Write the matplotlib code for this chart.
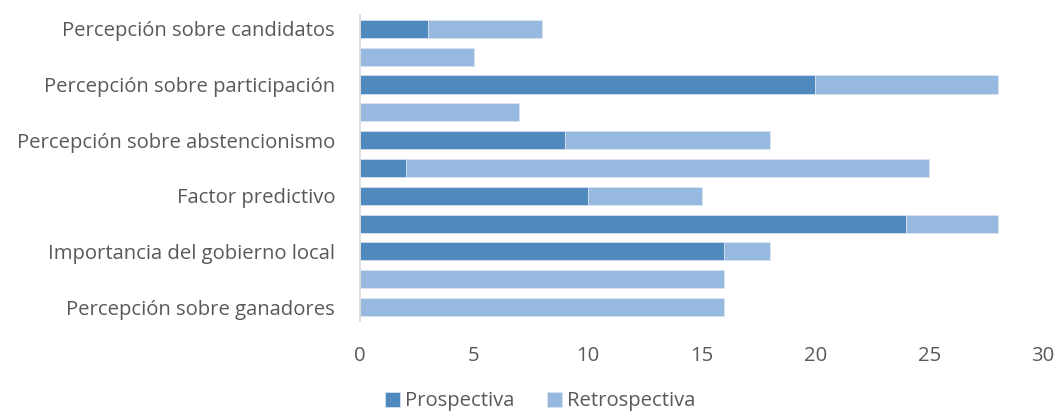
import numpy as np
import matplotlib.pyplot as plt

plt.rcParams['font.family'] = ['Open Sans', 'DejaVu Sans']

labels = ["Percepción sobre candidatos", "", "Percepción sobre participación", "",
          "Percepción sobre abstencionismo", "", "Factor predictivo", "",
          "Importancia del gobierno local", "", "Percepción sobre ganadores"]
prospectiva = [3, 0, 20, 0, 9, 2, 10, 24, 16, 0, 0]
retrospectiva = [5, 5, 8, 7, 9, 23, 5, 4, 2, 16, 16]
ticks = [0, 5, 10, 15, 20, 25, 30]

dark = "#4F89BD"
light = "#97B9E0"
grey = "#595959"
fs = 14.6

fig = plt.figure(figsize=(10.57, 4.15), dpi=100)
ax = fig.add_axes([0.3406, 0.2265, 0.6462, 0.7375])

y = np.arange(len(labels))
ax.barh(y, prospectiva, height=0.65, color=dark, edgecolor="#DCE6F2", linewidth=0.5, label="Prospectiva")
ax.barh(y, retrospectiva, left=prospectiva, height=0.65, color=light, edgecolor="#DCE6F2",
        linewidth=0.5, label="Retrospectiva")

ax.set_ylim(len(labels) - 0.5, -0.5)
ax.set_xlim(0, 30)
ax.set_yticks(y)
ax.set_yticklabels(labels, fontsize=fs, color=grey)
ax.set_xticks(ticks)
ax.set_xticklabels([str(t) for t in ticks], fontsize=fs, color=grey)
ax.tick_params(axis="both", length=0)
ax.tick_params(axis="x", pad=18)
ax.tick_params(axis="y", pad=18)
for s in ["top", "right", "bottom"]:
    ax.spines[s].set_visible(False)
ax.spines["left"].set_color("#D9D9D9")
ax.spines["left"].set_linewidth(1.2)

fig.legend(loc="lower center", bbox_to_anchor=(0.511, -0.035), ncol=2, frameon=False,
           fontsize=fs, labelcolor=grey, handlelength=0.75, handleheight=0.75,
           handletextpad=0.25, columnspacing=1.6)

fig.savefig("out.png", dpi=100)
